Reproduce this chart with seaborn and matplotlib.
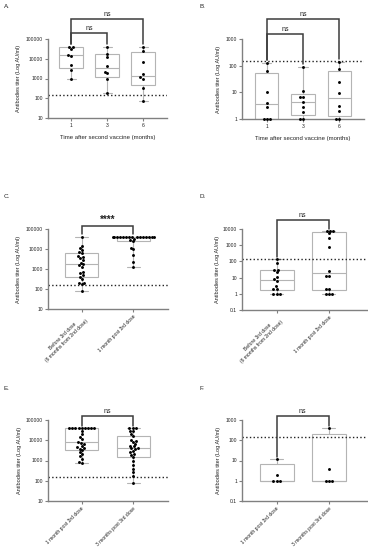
import warnings
import numpy as np
import pandas as pd
import matplotlib
matplotlib.use('Agg')
import matplotlib.pyplot as plt
from matplotlib.ticker import FixedLocator, NullLocator
import seaborn as sns

warnings.filterwarnings('ignore')

W, H = 368, 550
LOD = 150  # cut-off drawn as dotted line (AU/ml)

# A. positive after 2nd dose
a_groups = ['1', '3', '6']
a_1m = [41000, 40000, 31000, 16000, 14000, 5000, 2800, 1000]
a_3m = [41000, 18000, 12000, 4500, 2200, 1800, 950, 190]
a_6m = [41000, 26000, 6800, 1600, 1150, 1000, 320, 75]

# B. low responders after 2nd dose
b_groups = ['1', '3', '6']
b_1m = [130, 65, 10, 4.1, 2.9, 1, 1, 1]
b_3m = [92, 11, 6.9, 6.9, 4.5, 2.9, 1.9, 1, 1]
b_6m = [140, 75, 25, 9.5, 3, 2, 1, 1]

# C. / D. before vs after 3rd dose
cd_groups = ['Before 3rd dose\n(6 months from 2nd dose)', '1 month post 3rd dose']
c_before = [41000, 14000, 11700, 9000, 7400, 6100, 4500, 3900, 3400, 2800, 2100, 1700,
            1500, 1300, 740, 600, 500, 410, 300, 205, 190, 170, 76]
c_after = [41000, 41000, 41000, 41000, 41000, 41000, 41000, 41000, 41000, 41000, 41000,
           41000, 41000, 41000, 41000, 33000, 27000, 24000, 11000, 9500, 4800, 2300, 1200]
d_before = [140, 80, 31, 30, 22, 11, 8, 6, 3, 2, 2, 1, 1, 1]
d_after = [8000, 8000, 7800, 5600, 2800, 730, 26, 13, 12, 2, 2, 1, 1, 1]

# E. / F. 1 vs 3 months after 3rd dose
ef_groups = ['1 month post 3rd dose', '3 months post 3rd dose']
e_1m = [41000, 41000, 41000, 41000, 41000, 41000, 41000, 41000, 41000, 29000, 20000, 14000,
        11000, 8200, 7200, 6200, 5200, 4600, 4000, 3800, 3200, 2500, 2000, 1600, 1200, 800, 750]
e_3m = [41000, 41000, 41000, 30000, 28000, 20000, 16000, 10000, 9000, 8000, 6500, 5500, 5000,
        4200, 4000, 3600, 3000, 2600, 2200, 1900, 1500, 1000, 600, 380, 260, 170, 75]
f_1m = [12, 2, 1, 1, 1]
f_3m = [400, 4, 1, 1, 1]

BOXC = '#b4b4b4'
AXC = '#808080'
BRC = '#3c3c3c'

sns.set_style('ticks')
plt.rcParams['font.family'] = ['Liberation Sans', 'DejaVu Sans']

fig = plt.figure(figsize=(W / 100, H / 100), dpi=100)


def add_ax(l, t, r, b):
    return fig.add_axes([l / W, 1 - b / H, (r - l) / W, (b - t) / H])


def fmt(v):
    return f'{v:g}' if v < 1 else str(int(v))


def panel(ax, groups, values, ylim, xlim, ypad, rot=False, xlabel=''):
    df = pd.DataFrame({'group': np.repeat(groups, [len(v) for v in values]),
                       'titer': np.concatenate(values)})
    stats = []
    for v in values:
        q1, med, q3 = np.percentile(v, [25, 50, 75], method='weibull')
        stats.append(dict(med=med, q1=q1, q3=q3, whislo=min(v), whishi=max(v), fliers=[]))
    ax.set_yscale('log')
    line = dict(color=BOXC, lw=0.8)
    ax.bxp(stats, positions=range(len(values)), widths=0.65, capwidths=0.25,
           showfliers=False, patch_artist=True, manage_ticks=False,
           boxprops=dict(facecolor='white', edgecolor=BOXC, lw=0.8),
           whiskerprops=line, capprops=line, medianprops=line)
    sns.swarmplot(data=df, x='group', y='titer', order=groups, color='black',
                  size=2.1, ax=ax, zorder=3, log_scale=(False, True))
    for coll in ax.collections:
        coll.set_clip_on(False)
    ax.axhline(LOD, ls=':', color='#222222', lw=1.0, zorder=2)
    ax.set_ylim(*ylim)
    ax.set_xlim(*xlim)
    ticks = [10.0 ** k for k in range(int(np.log10(ylim[0])), int(np.log10(ylim[1])) + 1)]
    ax.yaxis.set_major_locator(FixedLocator(ticks))
    ax.yaxis.set_minor_locator(NullLocator())
    ax.set_yticklabels([fmt(t) for t in ticks])
    ax.set_xticks(range(len(groups)))
    if rot:
        ax.set_xticklabels(groups, rotation=45, ha='right', rotation_mode='anchor',
                           multialignment='center')
    else:
        ax.set_xticklabels(groups)
    sns.despine(ax=ax)
    for s in ['left', 'bottom']:
        ax.spines[s].set_color(AXC)
        ax.spines[s].set_linewidth(1.0)
    ax.tick_params(length=2, width=0.8, color=AXC, labelsize=3.6, pad=1.5, labelcolor='#222222')
    ax.set_xlabel(xlabel, fontsize=4.3, color='#222222', labelpad=5)
    ax.set_ylabel('Antibodies titer (Log AU/ml)', fontsize=4, color='#222222')
    w_px = ax.get_position().width * W
    ax.yaxis.set_label_coords(-ypad / w_px, 0.5)


def bracket(ax, x1, x2, v1, v2, px_above, text, fs=5, bold=False):
    lo, hi = ax.get_ylim()
    h_px = ax.get_position().height * H
    per_dec = h_px / np.log10(hi / lo)
    ybar = hi * 10 ** (px_above / per_dec)
    leg1 = max(v1) * 1.3
    leg2 = max(v2) * 1.3
    ax.plot([x1, x1, x2, x2], [leg1, ybar, ybar, leg2], color=BRC, lw=1.1, clip_on=False,
            solid_joinstyle='miter')
    ax.text((x1 + x2) / 2, ybar * 10 ** (1.0 / per_dec), text, ha='center', va='bottom',
            fontsize=fs, color='#222222', fontweight='bold' if bold else 'normal')


xl = 'Time after second vaccine (months)'

ax = add_ax(48, 39, 167, 118)
panel(ax, a_groups, [a_1m, a_3m, a_6m], (10, 1e5), (-0.64, 2.66), 27, xlabel=xl)
bracket(ax, 0, 1, a_1m, a_3m, 6, 'ns')
bracket(ax, 0, 2, a_1m, a_6m, 20, 'ns')

ax = add_ax(242, 39, 364, 119)
panel(ax, b_groups, [b_1m, b_3m, b_6m], (1, 1000), (-0.68, 2.68), 21, xlabel=xl)
bracket(ax, 0, 1, b_1m, b_3m, 5, 'ns')
bracket(ax, 0, 2, b_1m, b_6m, 20, 'ns')

ax = add_ax(48, 229, 168, 309)
panel(ax, cd_groups, [c_before, c_after], (10, 1e5), (-0.65, 1.67), 27, rot=True)
bracket(ax, 0, 1, c_before, c_after, 3, '****', fs=7, bold=True)

ax = add_ax(242, 229, 367, 310)
panel(ax, cd_groups, [d_before, d_after], (0.1, 1e4), (-0.66, 1.73), 22, rot=True)
bracket(ax, 0, 1, d_before, d_after, 8.5, 'ns')

ax = add_ax(48, 420, 168, 501)
panel(ax, ef_groups, [e_1m, e_3m], (10, 1e5), (-0.65, 1.67), 26, rot=True)
bracket(ax, 0, 1, e_1m, e_3m, 4, 'ns')

ax = add_ax(242, 420, 367, 501)
panel(ax, ef_groups, [f_1m, f_3m], (0.1, 1000), (-0.66, 1.73), 21, rot=True)
bracket(ax, 0, 1, f_1m, f_3m, 4, 'ns')

for lab, x, y in [('A.', 4, 6), ('B.', 200, 6), ('C.', 4, 197), ('D.', 200, 197),
                  ('E.', 4, 388), ('F.', 200, 388)]:
    fig.text(x / W, 1 - y / H, lab, fontsize=4.5, color='#222222', va='center')

fig.savefig('out.png', dpi=100)
